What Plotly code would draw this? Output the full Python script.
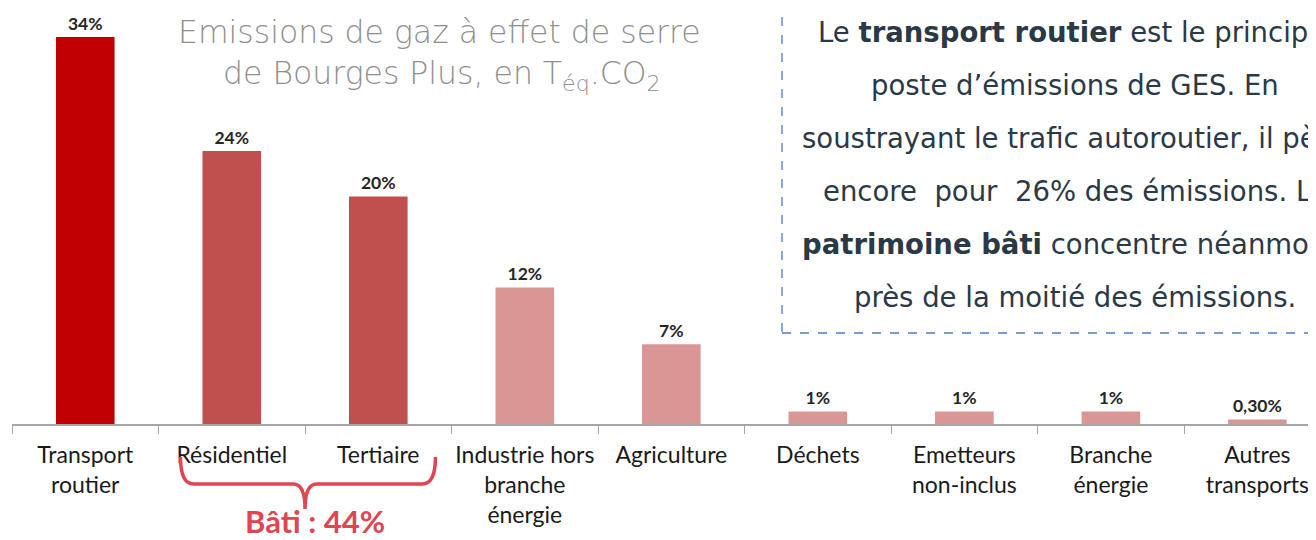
import plotly.graph_objects as go

categories = ["Transport<br>routier", "Résidentiel", "Tertiaire", "Industrie hors<br>branche<br>énergie",
              "Agriculture", "Déchets", "Emetteurs<br>non-inclus", "Branche<br>énergie", "Autres<br>transports"]
values = [34, 24, 20, 12, 7, 1.1, 1.1, 1.1, 0.4]
labels = ["34%", "24%", "20%", "12%", "7%", "1%", "1%", "1%", "0,30%"]
colors = ["#C00000", "#C0504D", "#C0504D", "#D99694", "#D99694", "#D99694", "#D99694", "#D99694", "#D99694"]

# page body has an 8px margin; figure sized to fit the window
OFF = 8
W, H = 1316 - OFF, 540 - OFF
ml, mb = 12 - OFF, 116
ph = H - mb


def px(x):
    return (x - OFF - ml) / (W - ml)


def py(y):
    return (ph - (y - OFF)) / ph


fig = go.Figure(go.Bar(
    x=categories, y=values, text=labels, textposition="outside",
    marker=dict(color=colors, line=dict(width=0)), width=0.4,
    textfont=dict(family="Lato", size=17.5, color="#262626", weight="bold"),
    cliponaxis=False,
))

fig.update_layout(
    width=W, height=H, margin=dict(l=ml, r=0, t=0, b=mb, autoexpand=False),
    plot_bgcolor="white", paper_bgcolor="white", showlegend=False,
    xaxis=dict(range=[-0.5, 8.4], showline=True, linecolor="#a6a6a6", linewidth=1.5,
               ticks="outside", tickson="boundaries", ticklen=8, tickcolor="#a6a6a6",
               tickfont=dict(family="Lato", size=23, color="#1a1a1a"), showgrid=False,
               tickangle=0, ticklabelstandoff=10, automargin=False),
    yaxis=dict(range=[0, ph / 11.38], visible=False, showgrid=False),
)

# Title
title_font = dict(family="DejaVu Sans", size=31.5, color="#8f8f8f", weight=300)
fig.add_annotation(xref="paper", yref="paper", x=px(439), y=py(32), xanchor="center", yanchor="middle",
                   text="Emissions de gaz à effet de serre", showarrow=False, font=title_font)
fig.add_annotation(xref="paper", yref="paper", x=px(442), y=py(75), xanchor="center", yanchor="middle",
                   text="de Bourges Plus, en T<sub>éq</sub>.CO<sub>2</sub>", showarrow=False, font=title_font)

# Text box
fig.add_shape(type="rect", xref="paper", yref="paper", x0=px(782), x1=px(1380),
              y0=py(333), y1=py(-10), line=dict(color="#4a7cc7", width=1.3, dash="dash"))
box_lines = [
    "Le <b>transport routier</b> est le principal",
    "poste d’émissions de GES. En",
    "soustrayant le trafic autoroutier, il pèse",
    "encore  pour  26% des émissions. Le",
    "<b>patrimoine bâti</b> concentre néanmoins",
    "près de la moitié des émissions.",
]
for i, t in enumerate(box_lines):
    fig.add_annotation(xref="paper", yref="paper", x=px(1075), y=py(32 + 53 * i),
                       xanchor="center", yanchor="middle", text=t, showarrow=False,
                       font=dict(family="DejaVu Sans", size=27.5, color="#2a3946"))

# Bracket
yt, yh, yb = py(457), py(484), py(509)
path = (f"M 0.65,{yt} Q 0.65,{yh} 0.74,{yh} L 1.42,{yh} Q 1.5,{yh} 1.5,{yb} "
        f"Q 1.5,{yh} 1.58,{yh} L 2.3,{yh} Q 2.39,{yh} 2.39,{yt}")
fig.add_shape(type="path", xref="x", yref="paper", path=path, line=dict(color="#E04550", width=3.5))
fig.add_annotation(xref="paper", yref="paper", x=px(315), y=py(521), xanchor="center", yanchor="middle",
                   text="<b>Bâti : 44%</b>", showarrow=False,
                   font=dict(family="Lato", size=31, color="#E04550"))

fig.write_html("out.html")
